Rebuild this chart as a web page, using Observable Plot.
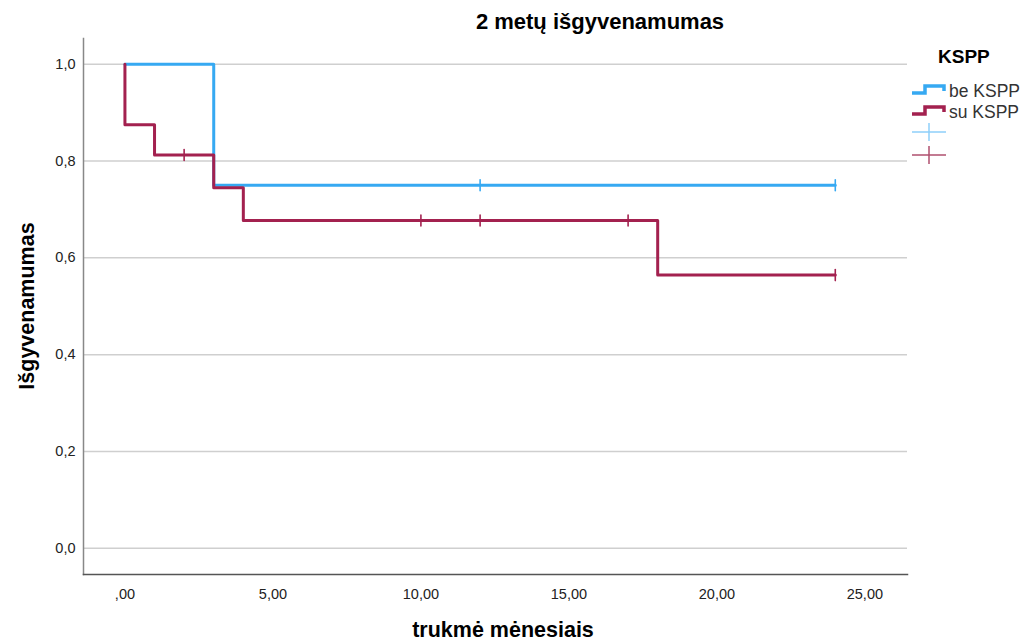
<!DOCTYPE html>
<html>
<head>
<meta charset="utf-8">
<script src="https://cdn.jsdelivr.net/npm/d3@7"></script>
<script src="https://cdn.jsdelivr.net/npm/@observablehq/plot@0.6"></script>
<style>
  body { margin: 0; background: #fff; font-family: "Liberation Sans", Arial, sans-serif; }
  #wrap { position: relative; width: 1033px; height: 643px; }
  .lbl { position: absolute; font-weight: bold; color: #000; white-space: nowrap; }
</style>
</head>
<body>
<div id="wrap">
  <div class="lbl" id="title" style="left:600px;top:22px;font-size:22px;transform:translate(-50%,-50%);"></div>
  <div class="lbl" id="ylab" style="left:27px;top:306px;font-size:21.5px;transform:translate(-50%,-50%) rotate(-90deg);"></div>
  <div class="lbl" id="xlab" style="left:503px;top:630px;font-size:21.5px;transform:translate(-50%,-50%);"></div>
  <div class="lbl" id="legtitle" style="left:938px;top:46px;font-size:19px;"></div>
  <svg id="legend" width="130" height="110" style="position:absolute;left:903px;top:75px;overflow:visible"></svg>
</div>
<script>
// ---- data ----
const titleText = "2 metų išgyvenamumas";
const xLabel = "trukmė mėnesiais";
const yLabel = "Išgyvenamumas";
const legendTitle = "KSPP";
const groups = ["be KSPP", "su KSPP"];
const colors = ["#36a9f2", "#a3214f"];
const crossColors = ["#8fd0fa", "#b0506f"];

// Kaplan-Meier step points (time in months, survival)
const beTimes = [0, 3, 24];
const beSurv  = [1.0, 0.75, 0.75];
const suTimes = [0, 0, 1, 3, 4, 18, 24];
const suSurv  = [1.0, 0.875, 0.8125, 0.7448, 0.6771, 0.5643, 0.5643];

// censored observations
const beCensTimes = [12, 24];
const beCensSurv  = [0.75, 0.75];
const suCensTimes = [2, 10, 12, 17, 24];
const suCensSurv  = [0.8125, 0.6771, 0.6771, 0.6771, 0.5643];

const xTicks = [0, 5, 10, 15, 20, 25];
const yTicks = [0, 0.2, 0.4, 0.6, 0.8, 1.0];

// ---- build tables ----
const steps = [
  ...beTimes.map((t, i) => ({t, s: beSurv[i], g: groups[0]})),
  ...suTimes.map((t, i) => ({t, s: suSurv[i], g: groups[1]}))
];
const cens = [
  ...beCensTimes.map((t, i) => ({t, s: beCensSurv[i], g: groups[0]})),
  ...suCensTimes.map((t, i) => ({t, s: suCensSurv[i], g: groups[1]}))
];

const vline = { draw(ctx, l) { ctx.moveTo(0, -l / 2); ctx.lineTo(0, l / 2); } };

const fmtY = d => d.toFixed(1).replace(".", ",");
const fmtX = d => d === 0 ? ",00" : d.toFixed(2).replace(".", ",");

const chart = Plot.plot({
  width: 1033,
  height: 643,
  marginLeft: 83,
  marginRight: 126,
  marginTop: 38,
  marginBottom: 69,
  style: { fontFamily: "'Liberation Sans', Arial, sans-serif", fontSize: "14.5px", color: "#222", background: "transparent" },
  x: { domain: [-1.4, 26.44], ticks: xTicks, tickFormat: fmtX, tickSize: 0, tickPadding: 14, label: null },
  y: { domain: [-0.054, 1.053], ticks: yTicks, tickFormat: fmtY, tickSize: 0, tickPadding: 8, label: null },
  color: { domain: groups, range: colors },
  marks: [
    Plot.gridY(yTicks, { stroke: "#cfcfcf", strokeOpacity: 1, strokeWidth: 1.5 }),
    Plot.frame({ anchor: "left", stroke: "#888", strokeWidth: 1.5 }),
    Plot.frame({ anchor: "bottom", stroke: "#555", strokeWidth: 1.5 }),
    Plot.line(steps, { x: "t", y: "s", z: "g", stroke: "g", strokeWidth: 3, curve: "step-after" }),
    Plot.vector(cens, { x: "t", y: "s", stroke: "g", length: 11, rotate: 0, anchor: "start", shape: vline, strokeWidth: 1.6 })
  ]
});
document.getElementById("wrap").prepend(chart);
chart.style.position = "absolute";
chart.style.left = "0";
chart.style.top = "0";

document.getElementById("title").textContent = titleText;
document.getElementById("xlab").textContent = xLabel;
document.getElementById("ylab").textContent = yLabel;
document.getElementById("legtitle").textContent = legendTitle;

// legend
const leg = d3.select("#legend");
groups.forEach((g, i) => {
  const y0 = i * 21;
  leg.append("path")
    .attr("d", `M9,${y0 + 18} H22 V${y0 + 11} H41 V${y0 + 16}`)
    .attr("fill", "none").attr("stroke", colors[i]).attr("stroke-width", 3.5);
  leg.append("text").attr("x", 46).attr("y", y0 + 22)
    .attr("font-family", "'Liberation Sans', Arial, sans-serif").attr("font-size", 17.5).attr("fill", "#333")
    .text(g);
});
crossColors.forEach((c, i) => {
  const cy = 57 + i * 23;
  leg.append("path")
    .attr("d", `M9,${cy} H43 M26,${cy - 9} V${cy + 9}`)
    .attr("fill", "none").attr("stroke", c).attr("stroke-width", 1.5);
});
</script>
</body>
</html>
